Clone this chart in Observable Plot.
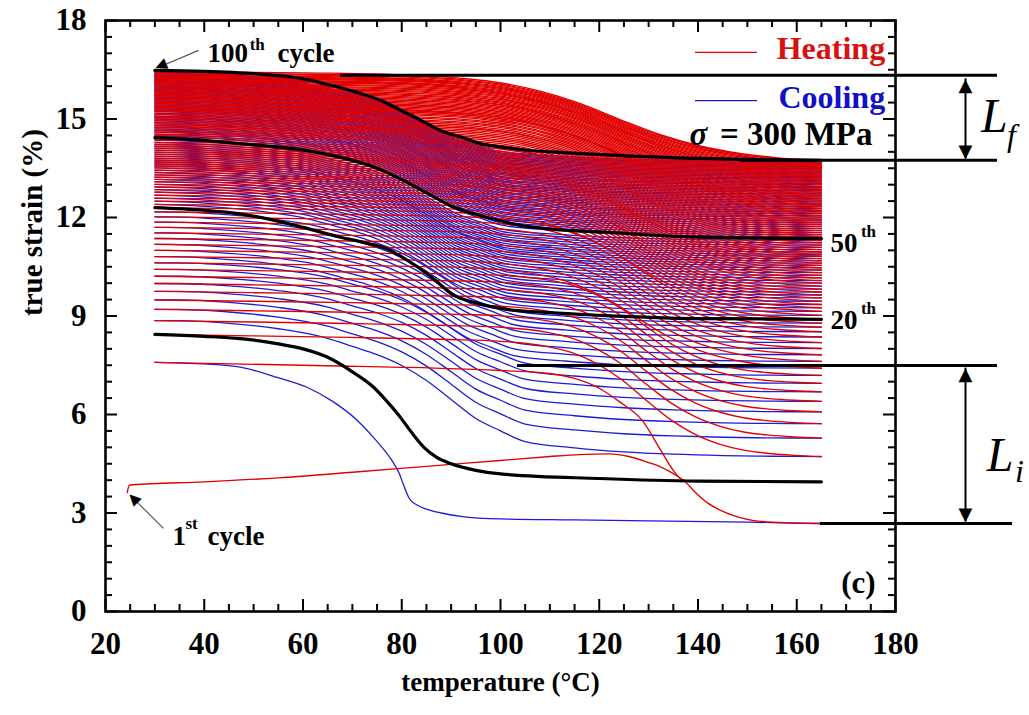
<!DOCTYPE html>
<html><head><meta charset="utf-8">
<script src="https://cdn.jsdelivr.net/npm/d3@7"></script>
<script src="https://cdn.jsdelivr.net/npm/@observablehq/plot@0.6"></script>
<style>body{margin:0;background:#fff;} svg{display:block}</style>
</head><body><div id="chart"></div>
<script>
// ---------------- data ----------------
const cycles = d3.range(1, 101);
// strain (%) at 165 °C at the end of each heating (= start of cooling), cycles 1..100
const strainHot = [
 2.68, 3.95, 4.72, 5.28, 5.72, 6.08, 6.40, 6.69, 6.95, 7.19,
 7.41, 7.62, 7.82, 8.01, 8.19, 8.36, 8.52, 8.66, 8.78, 8.90,
 9.02, 9.14, 9.25, 9.35, 9.45, 9.55, 9.64, 9.73, 9.82, 9.91,
 10.00, 10.08, 10.16, 10.24, 10.32, 10.40, 10.47, 10.54, 10.61, 10.68,
 10.75, 10.82, 10.88, 10.95, 11.02, 11.09, 11.16, 11.23, 11.30, 11.36,
 11.42, 11.48, 11.54, 11.60, 11.66, 11.72, 11.78, 11.84, 11.90, 11.95,
 12.01, 12.06, 12.12, 12.17, 12.22, 12.28, 12.33, 12.38, 12.43, 12.48,
 12.53, 12.58, 12.63, 12.68, 12.72, 12.77, 12.82, 12.86, 12.91, 12.95,
 13.00, 13.04, 13.08, 13.13, 13.17, 13.21, 13.25, 13.29, 13.33, 13.37,
 13.41, 13.45, 13.49, 13.53, 13.56, 13.60, 13.64, 13.67, 13.71, 13.74];
// strain (%) at 30 °C at the end of each cooling (= start of next heating), cycles 1..100
const strainCold = [
 7.59, 8.44, 8.86, 9.20, 9.49, 9.75, 9.99, 10.21, 10.42, 10.62,
 10.81, 11.00, 11.18, 11.36, 11.53, 11.70, 11.86, 12.02, 12.17, 12.30,
 12.40, 12.50, 12.59, 12.68, 12.77, 12.85, 12.93, 13.01, 13.09, 13.16,
 13.23, 13.30, 13.37, 13.44, 13.51, 13.57, 13.63, 13.69, 13.75, 13.81,
 13.87, 13.93, 13.99, 14.05, 14.11, 14.17, 14.23, 14.29, 14.36, 14.43,
 14.49, 14.54, 14.60, 14.65, 14.70, 14.75, 14.80, 14.85, 14.90, 14.95,
 15.00, 15.05, 15.09, 15.14, 15.18, 15.23, 15.27, 15.31, 15.35, 15.39,
 15.43, 15.47, 15.51, 15.55, 15.59, 15.63, 15.67, 15.71, 15.75, 15.79,
 15.83, 15.86, 15.90, 15.94, 15.97, 16.01, 16.04, 16.08, 16.11, 16.15,
 16.18, 16.21, 16.25, 16.28, 16.31, 16.34, 16.38, 16.41, 16.45, 16.48];

// shape of a heating curve (fraction of recovery) read from the 3rd cycle
const heatTplT = [30, 50, 70, 90, 100, 110, 115, 120, 125, 130, 135, 140, 145, 150, 155, 160, 165];
const heatTplF = [0, 0.012, 0.025, 0.042, 0.055, 0.1, 0.15, 0.24, 0.37, 0.54, 0.7, 0.82, 0.9, 0.95, 0.975, 0.99, 1];
// shape of a cooling curve (fraction of strain gained) read from the marked cycles
const coolTplT = [30, 40, 50, 60, 65, 70, 75, 80, 85, 90, 95, 100, 110, 120, 130, 140, 150, 165];
const coolTplG = [1, 0.98, 0.94, 0.87, 0.81, 0.75, 0.67, 0.56, 0.42, 0.28, 0.19, 0.11, 0.065, 0.035, 0.018, 0.008, 0.003, 0];
// per group of ten cycles: heating drop centre (°C), drop spread, cooling shift (°C)
const heatCenter = [127.5, 126, 125, 124.5, 124, 123.5, 123, 122, 121.5, 121];
const heatWidth  = [1.0, 1.15, 1.25, 1.35, 1.4, 1.45, 1.5, 1.55, 1.6, 1.6];
const coolShift  = [5, 3, 1, 1, 0.5, 0.5, 0, 0, 0, 0];

// individually read curves
const heat1T = [24.4, 24.8, 25.5, 40, 55, 70, 85, 100, 110, 116, 122, 126, 129.7, 132.5, 135.1, 137.1, 139.8, 142, 144.6, 148, 151.3, 158, 165];
const heat1S = [3.62, 3.84, 3.86, 3.95, 4.07, 4.24, 4.42, 4.6, 4.72, 4.78, 4.8, 4.72, 4.55, 4.4, 4.19, 3.99, 3.58, 3.3, 3.08, 2.88, 2.77, 2.7, 2.68];
const cool1T = [30, 40, 47.3, 55, 60.8, 66, 71, 74, 76, 78, 79.5, 80.5, 81.5, 83, 85, 88, 92, 100, 115, 130, 150, 165];
const cool1S = [7.59, 7.54, 7.44, 7.12, 6.83, 6.4, 5.82, 5.35, 5.0, 4.6, 4.2, 3.8, 3.45, 3.25, 3.12, 3.0, 2.9, 2.82, 2.79, 2.76, 2.72, 2.68];
const heat2T = [30, 60, 100, 110, 115, 120, 124, 128.7, 132.5, 135, 137.1, 140, 145, 165];
const heat2S = [7.59, 7.5, 7.34, 7.25, 7.1, 6.8, 6.4, 5.82, 4.9, 4.3, 3.99, 3.96, 3.955, 3.95];
const black2T = [30, 40, 47.3, 55, 60, 64.9, 70, 74.3, 77, 79.7, 82, 84.5, 87, 90, 95, 100, 120, 140, 165];
const black2S = [8.44, 8.38, 8.31, 8.15, 8.0, 7.75, 7.3, 6.83, 6.4, 5.92, 5.45, 5.0, 4.7, 4.5, 4.3, 4.19, 4.05, 3.97, 3.95];
const black20T = [30, 40, 47.3, 60, 67.6, 72, 77.7, 80, 85, 87.5, 90, 95, 100, 110, 120.3, 140.5, 165];
const black20S = [12.3, 12.22, 12.11, 11.7, 11.4, 11.25, 11.0, 10.8, 10.3, 10.0, 9.68, 9.4, 9.23, 9.1, 9.02, 8.92, 8.9];
const black50T = [30, 40, 47.3, 60, 67.6, 75, 80, 85, 87.8, 90, 95, 100, 104, 110, 121.4, 140, 165];
const black50S = [14.43, 14.35, 14.25, 14.05, 13.83, 13.5, 13.15, 12.75, 12.52, 12.35, 12.1, 11.9, 11.76, 11.65, 11.55, 11.4, 11.36];
const black100T = [30, 40, 50, 59.5, 65, 70, 75.7, 80, 84, 87.8, 92, 95.9, 100, 106, 110, 121.4, 140, 165];
const black100S = [16.48, 16.45, 16.38, 16.24, 16.05, 15.85, 15.57, 15.25, 14.95, 14.65, 14.45, 14.25, 14.15, 14.04, 14.0, 13.91, 13.8, 13.74];

const xTicks = [20, 40, 60, 80, 100, 120, 140, 160, 180];
const yTicks = [0, 3, 6, 9, 12, 15, 18];
const xMinor = d3.range(25, 180, 5).filter(v => v % 20 !== 0);
const yMinor = d3.range(0.5, 18, 0.5).filter(v => v % 3 !== 0);

// ---------------- build curves ----------------
const RED = "#e00000", BLUE = "#1c1cd0";
function interp(xs, ys, x) {
  if (x <= xs[0]) return ys[0];
  if (x >= xs[xs.length - 1]) return ys[ys.length - 1];
  let i = 1; while (xs[i] < x) i++;
  const t = (x - xs[i - 1]) / (xs[i] - xs[i - 1]);
  return ys[i - 1] + t * (ys[i] - ys[i - 1]);
}
const heats = [], cools = [], blacks = [];
function push(arr, id, kind, Ts, Ss) { Ts.forEach((T, i) => arr.push({id, kind, T, s: Ss[i]})); }
function heatCurve(n) {
  const g = Math.floor((n - 1) / 10), c = heatCenter[g], w = heatWidth[g];
  const a = strainCold[n - 2], b = strainHot[n - 1];
  const tp = T => 128 + (T - c) / w;
  const f0 = interp(heatTplT, heatTplF, tp(30)), f1 = interp(heatTplT, heatTplF, tp(165));
  const Ts = [30, ...heatTplT.map(t => c + (t - 128) * w).filter(T => T > 31 && T < 164), 165];
  push(heats, "h" + n, "Heating", Ts, Ts.map(T => a + (b - a) * (interp(heatTplT, heatTplF, tp(T)) - f0) / (f1 - f0)));
}
function coolCurve(n) {
  const sft = coolShift[Math.floor((n - 1) / 10)];
  const a = strainHot[n - 1], b = strainCold[n - 1];
  const g0 = interp(coolTplT, coolTplG, 165 - sft), g1 = interp(coolTplT, coolTplG, 30 - sft);
  const Ts = [30, ...coolTplT.map(t => t + sft).filter(T => T > 31 && T < 164), 165];
  push(cools, "c" + n, "Cooling", Ts, Ts.map(T => a + (b - a) * (interp(coolTplT, coolTplG, T - sft) - g0) / (g1 - g0)));
}
for (const n of cycles) {
  if (n === 1) { push(heats, "h1", "Heating", heat1T, heat1S); push(cools, "c1", "Cooling", cool1T, cool1S); continue; }
  if (n === 2) push(heats, "h2", "Heating", heat2T, heat2S); else heatCurve(n);
  if (![2, 20, 50, 100].includes(n)) coolCurve(n);
}
push(blacks, "b2", "k", black2T, black2S);
push(blacks, "b20", "k", black20T, black20S);
push(blacks, "b50", "k", black50T, black50S);
push(blacks, "b100", "k", black100T, black100S);

// ---------------- annotations (data units: °C, %) ----------------
const legendRows = [{kind: "Heating", s: 17.03, x1: 139.5, x2: 152.05}, {kind: "Cooling", s: 15.56, x1: 139.5, x2: 152.05}];
const levelLines = [
  {s: 16.33, x1: 67.6, x2: 200.66}, {s: 13.74, x1: 148.6, x2: 200.66},
  {s: 7.49, x1: 103.44, x2: 200.66}, {s: 2.68, x1: 164.8, x2: 203.7}];
const spans = [{T: 194.18, s1: 16.24, s2: 13.8}, {T: 194.18, s1: 7.43, s2: 2.74}];
const pointers = [{T1: 38.84, s1: 17.09, T2: 31.14, s2: 16.6, rot: 247, dx: 6.5, dy: -2.7},
                  {T1: 31.75, s1: 2.53, T2: 25.67, s2: 3.44, rot: 315, dx: 5, dy: 5}];
const bigText = [{t: "100", T: 40.66, s: 17.01}, {t: "cycle", T: 54.84, s: 17.01},
                 {t: "1", T: 33.57, s: 2.284}, {t: "cycle", T: 40.66, s: 2.284},
                 {t: "20", T: 166.84, s: 8.863}, {t: "50", T: 166.84, s: 11.208}];
const supText = [{t: "th", T: 49.2, s: 17.27}, {t: "st", T: 36.2, s: 2.68},
                 {t: "th", T: 173.0, s: 9.229}, {t: "th", T: 173.0, s: 11.574}];

const bold = {fontFamily: "Liberation Serif", fontWeight: "bold"};
const chart = Plot.plot({
  width: 1029, height: 715,
  marginLeft: 105, marginRight: 134, marginTop: 20, marginBottom: 104,
  x: {domain: [20, 180]},
  y: {domain: [0, 18]},
  color: {domain: ["Heating", "Cooling"], range: [RED, BLUE]},
  style: {fontFamily: "Liberation Serif", background: "white", overflow: "visible"},
  marks: [
    Plot.line(cools, {x: "T", y: "s", z: "id", stroke: "kind", strokeWidth: 1.3, curve: "monotone-x"}),
    Plot.line(heats, {x: "T", y: "s", z: "id", stroke: "kind", strokeWidth: 1.35, curve: "monotone-x"}),
    Plot.line(blacks, {x: "T", y: "s", z: "id", stroke: "black", strokeWidth: 3.2, curve: "monotone-x"}),
    // ticks (inward)
    Plot.tickX(xTicks, {x: d => d, insetTop: 579, stroke: "black", strokeWidth: 2}),
    Plot.tickX(xTicks, {x: d => d, insetBottom: 579, stroke: "black", strokeWidth: 2}),
    Plot.tickX(xMinor, {x: d => d, insetTop: 584, stroke: "black", strokeWidth: 2}),
    Plot.tickX(xMinor, {x: d => d, insetBottom: 584, stroke: "black", strokeWidth: 2}),
    Plot.tickY(yTicks, {y: d => d, insetRight: 778, stroke: "black", strokeWidth: 2}),
    Plot.tickY(yTicks, {y: d => d, insetLeft: 778, stroke: "black", strokeWidth: 2}),
    Plot.tickY(yMinor, {y: d => d, insetRight: 783, stroke: "black", strokeWidth: 2}),
    Plot.tickY(yMinor, {y: d => d, insetLeft: 783, stroke: "black", strokeWidth: 2}),
    Plot.frame({stroke: "black", strokeWidth: 2.6}),
    Plot.axisX({ticks: xTicks, tickSize: 0, tickPadding: 20, fontSize: 31, ...bold, label: null}),
    Plot.axisY({ticks: yTicks, tickSize: 0, tickPadding: 19, fontSize: 31, ...bold, label: null}),
    Plot.text(["true strain (%)"], {text: d => d, frameAnchor: "left", dx: -73, rotate: -90, fontSize: 29, ...bold}),
    Plot.text(["temperature (°C)"], {text: d => d, frameAnchor: "bottom", dy: 79, fontSize: 27, ...bold}),
    // legend
    Plot.ruleY(legendRows, {y: "s", x1: "x1", x2: "x2", stroke: "kind", strokeWidth: 1.4}),
    Plot.text([{t: "Heating", s: 17.15, c: "#d81010"}, {t: "Cooling", s: 15.655, c: "#1010c8"}],
      {x: 177.9, y: "s", text: "t", fill: "c", textAnchor: "end", fontSize: 32, ...bold}),
    Plot.text(["σ"], {x: 138.3, y: 14.543, text: d => d, textAnchor: "start", fontSize: 33, fontStyle: "italic", ...bold}),
    Plot.text(["= 300 MPa"], {x: 175.34, y: 14.543, text: d => d, textAnchor: "end", fontSize: 33, ...bold}),
    // L_f, L_i markers
    Plot.ruleY(levelLines, {y: "s", x1: "x1", x2: "x2", stroke: "black", strokeWidth: 3}),
    Plot.link(spans, {x1: "T", x2: "T", y1: "s1", y2: "s2", stroke: "black", strokeWidth: 2}),
    Plot.text(spans, {x: "T", y: "s1", text: () => "▲", dy: 7, fontSize: 18, fontFamily: "DejaVu Sans"}),
    Plot.text(spans, {x: "T", y: "s2", text: () => "▼", dy: -7, fontSize: 18, fontFamily: "DejaVu Sans"}),
    Plot.text([{t: "L", T: 197.3, s: 15.08}, {t: "L", T: 198.5, s: 4.75}],
      {x: "T", y: "s", text: "t", textAnchor: "start", fontSize: 48, fontStyle: "italic", fontFamily: "Liberation Serif"}),
    Plot.text([{t: "f", T: 202.6, s: 14.5}, {t: "i", T: 204.2, s: 4.25}],
      {x: "T", y: "s", text: "t", textAnchor: "start", fontSize: 32, fontStyle: "italic", fontFamily: "Liberation Serif"}),
    // cycle labels and pointers
    Plot.link(pointers, {x1: "T1", y1: "s1", x2: "T2", y2: "s2", stroke: "#555", strokeWidth: 1.2}),
    Plot.text(pointers, {x: "T2", y: "s2", text: () => "▲", rotate: "rot", dx: "dx", fontSize: 15, fontFamily: "DejaVu Sans"}),
    Plot.text(bigText, {x: "T", y: "s", text: "t", textAnchor: "start", fontSize: 27, ...bold}),
    Plot.text(supText, {x: "T", y: "s", text: "t", textAnchor: "start", fontSize: 17, ...bold}),
    Plot.text(["(c)"], {x: 172.5, y: 0.853, text: d => d, fontSize: 31, ...bold})
  ]
});
document.getElementById("chart").appendChild(chart);
</script></body></html>
